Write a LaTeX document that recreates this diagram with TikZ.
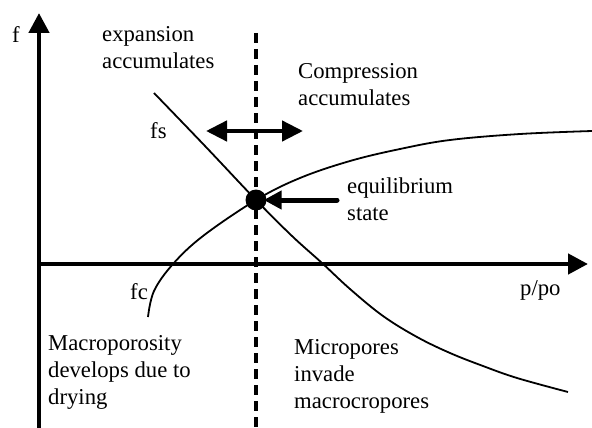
\documentclass[tikz,border=0pt]{standalone}
\usepackage{fontspec}
\setmainfont{Liberation Serif}
\usetikzlibrary{arrows.meta}
\begin{document}
\begin{tikzpicture}[x=1pt,y=-1pt,
  lbl/.style={anchor=base west, inner sep=0pt, font=\fontsize{22.7}{27}\selectfont},
  axis/.style={line width=4.5pt, -{Triangle[length=20pt,width=20pt]}},
  crv/.style={line width=1.8pt},
  fat/.style={line width=4.5pt}]
\useasboundingbox (0,0) rectangle (592,428);
% axes
\coordinate (ybot) at (39,432);
\coordinate (ytip) at (39,13);
\coordinate (xst) at (37,264);
\coordinate (xtip) at (588,264);
\draw[axis] (ybot) -- (ytip);
\draw[axis] (xst) -- (xtip);
% dashed divider
\coordinate (dtop) at (256,33);
\coordinate (dbot) at (256,432);
\draw[line width=4pt, dash pattern=on 10pt off 6pt] (dtop) -- (dbot);
% equilibrium point
\node[circle, fill, minimum size=21pt, inner sep=0pt] (eq) at (256,200) {};
% curves
\draw[crv] plot[smooth, tension=0.6] coordinates {(154,93) (205,146) (256,200) (292,236) (322,263) (350,289) (383,316) (417,337) (450,353) (483,366) (517,378) (568,392)};
\draw[crv] plot[smooth, tension=0.6] coordinates {(148,317) (154,291) (173,264) (203,236) (256,200) (300,178) (350,161) (400,149) (450,140) (520,134) (592,131)};
% double arrow
\coordinate (dl) at (206,131);
\coordinate (dr) at (303,131);
\draw[fat, {Triangle[length=21pt,width=20pt]}-{Triangle[length=21pt,width=20pt]}] (dl) -- (dr);
% equilibrium arrow
\coordinate (etail) at (337,200);
\draw[line width=5pt, line cap=round, -{Triangle[length=18pt,width=18pt]}] (etail) -- ([xshift=-3pt]eq.east);
% labels
\node[lbl] (f) at (12,43) {f};
\node[lbl] (exp1) at (102,42) {expansion};
\node[lbl] (exp2) at (102,69) {accumulates};
\node[lbl] (com1) at (298,79) {Compression};
\node[lbl] (com2) at (298,106) {accumulates};
\node[lbl] (fs) at (150,138) {fs};
\node[lbl] (eq1) at (347,193) {equilibrium};
\node[lbl] (eq2) at (347,220) {state};
\node[lbl] (fc) at (130,299) {fc};
\node[lbl] (ppo) at (520,295) {p/po};
\node[lbl] (mac1) at (48,350) {Macroporosity};
\node[lbl] (mac2) at (48,377) {develops due to};
\node[lbl] (mac3) at (48,404) {drying};
\node[lbl] (mic1) at (294,354) {Micropores};
\node[lbl] (mic2) at (294,381) {invade};
\node[lbl] (mic3) at (294,408) {macrocropores};
\end{tikzpicture}
\end{document}
